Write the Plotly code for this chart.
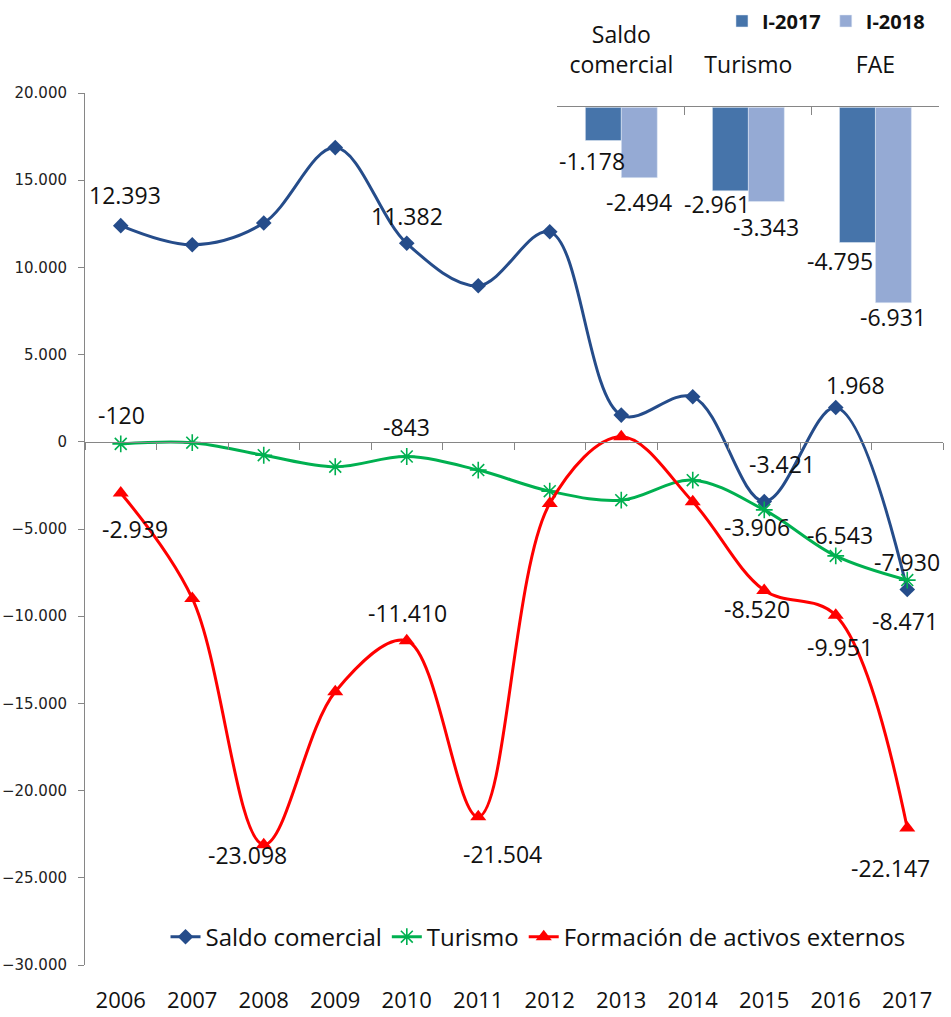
import plotly.graph_objects as go

# ---- main series (millions) ----
years = ["2006", "2007", "2008", "2009", "2010", "2011",
         "2012", "2013", "2014", "2015", "2016", "2017"]
saldo_comercial = [12393, 11300, 12550, 16870, 11382, 8950,
                   12040, 1530, 2580, -3421, 1968, -8471]
turismo = [-120, -50, -770, -1430, -843, -1620,
           -2830, -3350, -2200, -3906, -6543, -7930]
fae = [-2939, -8980, -23098, -14330, -11410, -21504,
       -3540, 290, -3440, -8520, -9951, -22147]

# ---- first-quarter comparison ----
inset_categories = ["Saldo<br>comercial", "Turismo", "FAE"]
i_2017 = [-1178, -2961, -4795]
i_2018 = [-2494, -3343, -6931]

# points that carry a value label, with pixel offsets (dx, dy; dy>0 = up)
saldo_label_pos = {0: (4, 31), 4: (0, 27), 9: (18, 37), 10: (20, 22), 11: (-2, -31)}
turismo_label_pos = {0: (1, 29), 4: (0, 30), 9: (-7, -17), 10: (4, 21), 11: (0, 18)}
fae_label_pos = {0: (14, -36), 2: (-16, -10), 4: (1, 28), 5: (24, -37),
                 9: (-7, -19), 10: (4, -32), 11: (-17, -40)}
# bar label offsets relative to the bar end / bar centre
bar_half = 18
i2017_label_pos = [(-11, -20), (-13, -13), (-17, -18)]
i2018_label_pos = [(0, -24), (0, -25), (0, -14)]

NAVY = "#254C8A"
GREEN = "#00B050"
RED = "#FF0000"
DARK_BAR = "#4674AA"
LIGHT_BAR = "#95AAD4"
AXIS = "#868686"
LABEL_FONT = dict(family="Open Sans", size=23, color="#111111")


def fmt(v):
    return f"{v:,}".replace(",", ".")


fig = go.Figure()

fig.add_trace(go.Scatter(
    x=years, y=saldo_comercial, name="Saldo comercial",
    mode="lines+markers", line=dict(color=NAVY, width=3, shape="spline", smoothing=1),
    marker=dict(symbol="diamond", size=12, color=NAVY), legend="legend"))
fig.add_trace(go.Scatter(
    x=years, y=turismo, name="Turismo",
    mode="lines+markers", line=dict(color=GREEN, width=3, shape="spline", smoothing=1),
    marker=dict(symbol="asterisk-open", size=14, color=GREEN, line=dict(color=GREEN, width=1.6)),
    legend="legend"))
fig.add_trace(go.Scatter(
    x=years, y=fae, name="Formación de activos externos",
    mode="lines+markers", line=dict(color=RED, width=3, shape="spline", smoothing=1),
    marker=dict(symbol="triangle-up", size=14, color=RED), legend="legend"))

# carrier for the category axis that sits on the zero line
fig.add_trace(go.Scatter(
    x=years, y=saldo_comercial, xaxis="x2", yaxis="y", mode="markers",
    marker=dict(opacity=0), showlegend=False, hoverinfo="skip"))

fig.add_trace(go.Bar(
    x=inset_categories, y=i_2017, name="<b>I-2017</b>", marker_color=DARK_BAR,
    xaxis="x3", yaxis="y3", legend="legend2"))
fig.add_trace(go.Bar(
    x=inset_categories, y=i_2018, name="<b>I-2018</b>", marker_color=LIGHT_BAR,
    xaxis="x3", yaxis="y3", legend="legend2"))

annotations = []
for series, pos in ((saldo_comercial, saldo_label_pos),
                    (turismo, turismo_label_pos),
                    (fae, fae_label_pos)):
    for i, (dx, dy) in pos.items():
        # category axes take the position index for annotations
        annotations.append(dict(
            x=i, y=series[i], xref="x", yref="y", text=fmt(series[i]),
            showarrow=False, xshift=dx, yshift=dy, font=LABEL_FONT))

for values, pos, side in ((i_2017, i2017_label_pos, -1), (i_2018, i2018_label_pos, 1)):
    for j, (v, (dx, dy)) in enumerate(zip(values, pos)):
        annotations.append(dict(
            x=j, y=v, xref="x3", yref="y3", text=fmt(v), showarrow=False,
            xshift=side * bar_half + dx, yshift=dy, font=LABEL_FONT))

fig.update_layout(
    width=951, height=1017,
    margin=dict(l=85, r=8, t=93, b=52, autoexpand=False),
    paper_bgcolor="white", plot_bgcolor="rgba(0,0,0,0)",
    separators=",.",
    barmode="group", bargap=0.434, bargroupgap=0,
    showlegend=True,
    annotations=annotations,
    xaxis=dict(
        type="category", categoryarray=years, range=[-0.5, 11.5],
        showline=False, showgrid=False, zeroline=False, ticks="",
        ticklabelstandoff=20, automargin=False,
        tickfont=dict(family="Open Sans", size=22, color="#111111")),
    xaxis2=dict(
        type="category", categoryarray=years, range=[-0.5, 11.5],
        overlaying="x", anchor="free", position=0.6,
        showline=True, linecolor=AXIS, linewidth=1,
        ticks="outside", tickson="boundaries", ticklen=7, tickcolor=AXIS,
        showticklabels=False, showgrid=False, zeroline=False),
    yaxis=dict(
        range=[-30000, 20000], dtick=5000, tickformat=",d",
        showline=True, linecolor=AXIS, linewidth=1,
        ticks="outside", ticklen=6, tickcolor=AXIS, ticklabelstandoff=8,
        showgrid=False, zeroline=False, automargin=False,
        tickfont=dict(family="DejaVu Sans", size=15, color="#222222")),
    xaxis3=dict(
        domain=[0.5505, 0.9953], anchor="y3", side="top",
        type="category", categoryarray=inset_categories,
        showline=True, linecolor=AXIS, linewidth=1,
        ticks="inside", tickson="boundaries", ticklen=8, tickcolor=AXIS,
        ticklabelstandoff=24, showgrid=False, zeroline=False, automargin=False,
        tickfont=dict(family="Open Sans", size=23, color="#111111")),
    yaxis3=dict(
        domain=[0.7249, 0.9836], anchor="x3", range=[-8000, 0],
        visible=False, showgrid=False, zeroline=False),
    legend=dict(
        orientation="h", x=0.528, xanchor="center", y=0.032, yanchor="middle",
        bgcolor="rgba(0,0,0,0)", font=dict(family="Open Sans", size=24, color="#111111"),
        itemwidth=30),
    legend2=dict(
        orientation="h", x=0.8636, xanchor="center", y=1.0826, yanchor="middle",
        bgcolor="rgba(0,0,0,0)", font=dict(family="Open Sans", size=20, color="#111111"),
        itemwidth=30),
)

fig.write_html("out.html")
